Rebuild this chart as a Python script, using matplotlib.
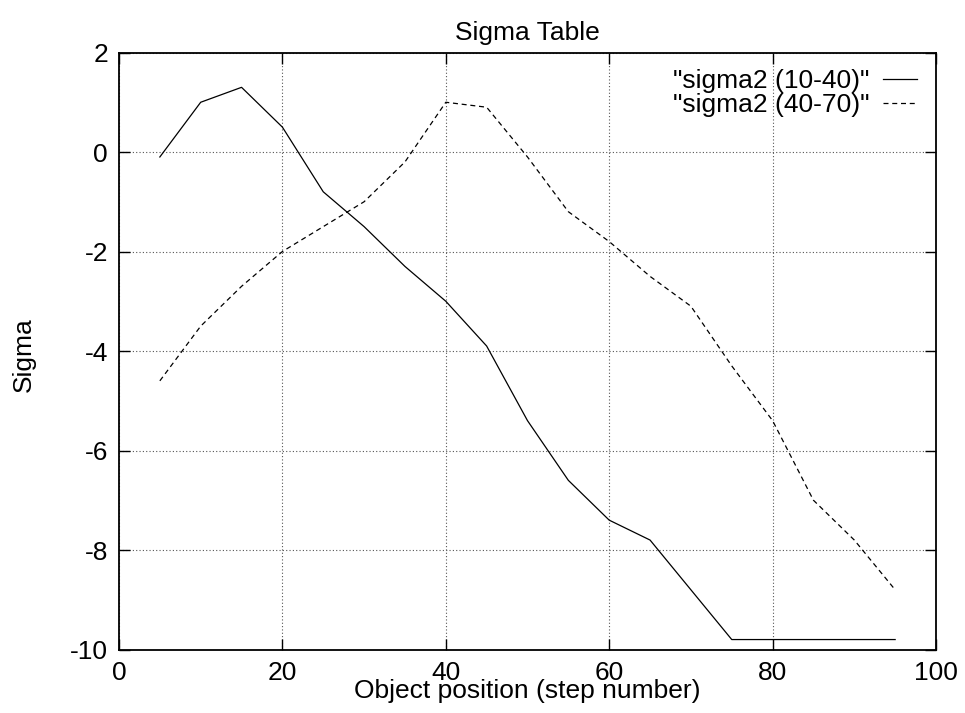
import matplotlib
matplotlib.use("Agg")
import matplotlib.pyplot as plt

# step positions and the two sigma curves
steps = [5, 10, 15, 20, 25, 30, 35, 40, 45, 50, 55, 60, 65, 70, 75, 80, 85, 90, 95]
sigma_10_40 = [-0.1, 1.0, 1.3, 0.5, -0.8, -1.5, -2.3, -3.0, -3.9, -5.4,
               -6.6, -7.4, -7.8, -8.8, -9.8, -9.8, -9.8, -9.8, -9.8]
sigma_40_70 = [-4.6, -3.5, -2.7, -2.0, -1.5, -1.0, -0.2, 1.0, 0.9, -0.1,
               -1.2, -1.8, -2.5, -3.1, -4.3, -5.4, -7.0, -7.8, -8.8]
labels = ['"sigma2 (10-40)"', '"sigma2 (40-70)"']
x_ticks = [0, 20, 40, 60, 80, 100]
y_ticks = [2, 0, -2, -4, -6, -8, -10]

plt.rcParams['font.family'] = ['Liberation Sans', 'DejaVu Sans']
plt.rcParams['axes.unicode_minus'] = False
fs = 19

fig = plt.figure(figsize=(9.65, 7.13), dpi=100)
W, H = 965, 713
left, right, top, bottom = 119, 936, 52.5, 649.5
ax = fig.add_axes([left / W, 1 - bottom / H, (right - left) / W, (bottom - top) / H])

ax.plot(steps, sigma_10_40, color='black', lw=0.9, label=labels[0])
ax.plot(steps, sigma_40_70, color='black', lw=0.9, ls=(0, (4, 3)), label=labels[1])

ax.set_xlim(0, 100)
ax.set_ylim(-10, 2)
ax.set_xticks(x_ticks)
ax.set_yticks(y_ticks)
ax.tick_params(direction='in', length=8, width=1, top=True, right=True,
               labelsize=fs, pad=8)
ax.tick_params(axis='y', pad=8)
for s in ax.spines.values():
    s.set_linewidth(1.3)

ax.grid(True, color='#555555', ls=(0, (1, 2)), lw=0.8)

leg = ax.legend(loc='upper right', bbox_to_anchor=(0.99, 0.99), frameon=False,
                markerfirst=False, fontsize=fs, handlelength=1.3,
                handletextpad=0.5, labelspacing=0.0, borderaxespad=0)

fig.text(527 / W, 1 - 33 / H, 'Sigma Table', ha='center', va='center', fontsize=fs)
fig.text(527 / W, 1 - 691 / H, 'Object position (step number)', ha='center',
         va='center', fontsize=fs)
fig.text(24 / W, 1 - 355 / H, 'Sigma', ha='center', va='center', rotation=90,
         fontsize=fs)

fig.savefig('out.png', dpi=100)
